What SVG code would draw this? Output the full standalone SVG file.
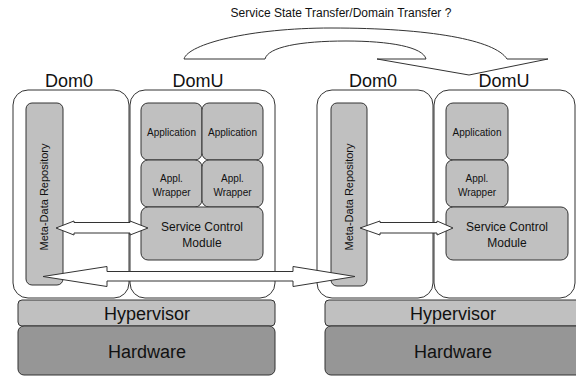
<svg xmlns="http://www.w3.org/2000/svg" width="576" height="379" viewBox="0 0 576 379">
  <style>
    .dom { fill: #ffffff; stroke: #333333; stroke-width: 1; }
    .mod { fill: #c0c0c0; stroke: #333333; stroke-width: 1; }
    .hw { fill: #969696; stroke: #333333; stroke-width: 1; }
    .arrow { fill: #ffffff; stroke: #333333; stroke-width: 1; stroke-linejoin: miter; }
    text { font-family: "Liberation Sans", Arial, sans-serif; fill: #111111; text-anchor: middle; }
    .lbl { font-size: 18px; }
    .sm { font-size: 10px; }
    .md { font-size: 12px; }
    .meta { font-size: 11px; }
  </style>

  <!-- domain labels -->
  <text class="lbl" x="69" y="87">Dom0</text>
  <text class="lbl" x="198" y="87">DomU</text>
  <text class="lbl" x="373" y="87">Dom0</text>
  <text class="lbl" x="504" y="87">DomU</text>
  <text class="md" x="341" y="17">Service State Transfer/Domain Transfer ?</text>

  <!-- host 1 -->
  <g id="dom0-a">
    <rect class="dom" x="13" y="90" width="116" height="208" rx="15"/>
  </g>
  <g id="domu-a">
    <rect class="dom" x="130" y="90" width="145" height="208" rx="15"/>
  </g>
  <g id="meta-a">
    <rect class="mod" x="26" y="103" width="37" height="182" rx="6"/>
    <text class="meta" transform="translate(48,197) rotate(-90)">Meta-Data Repository</text>
  </g>
  <g id="app-a1">
    <rect class="mod" x="141" y="103" width="61" height="57" rx="7"/>
    <text class="sm" x="171.5" y="136">Application</text>
  </g>
  <g id="app-a2">
    <rect class="mod" x="202" y="103" width="61" height="57" rx="7"/>
    <text class="sm" x="232.5" y="136">Application</text>
  </g>
  <g id="wrap-a1">
    <rect class="mod" x="141" y="160" width="61" height="47" rx="7"/>
    <text class="sm" x="171.5" y="181.5">Appl.</text>
    <text class="sm" x="171.5" y="195.5">Wrapper</text>
  </g>
  <g id="wrap-a2">
    <rect class="mod" x="202" y="160" width="61" height="47" rx="7"/>
    <text class="sm" x="232.5" y="181.5">Appl.</text>
    <text class="sm" x="232.5" y="195.5">Wrapper</text>
  </g>
  <g id="scm-a">
    <rect class="mod" x="141" y="207" width="122" height="53" rx="7"/>
    <text class="md" x="202" y="231">Service Control</text>
    <text class="md" x="202" y="247">Module</text>
  </g>
  <g id="hyp-a">
    <rect class="mod" x="18" y="300" width="257" height="26" rx="4"/>
    <text class="lbl" x="147" y="319.5">Hypervisor</text>
  </g>
  <g id="hw-a">
    <rect class="hw" x="18" y="326" width="257" height="49" rx="6"/>
    <text class="lbl" x="147" y="357.5">Hardware</text>
  </g>

  <!-- host 2 -->
  <g id="dom0-b">
    <rect class="dom" x="317" y="90" width="116" height="208" rx="15"/>
  </g>
  <g id="domu-b">
    <rect class="dom" x="434" y="90" width="141" height="208" rx="15"/>
  </g>
  <g id="meta-b">
    <rect class="mod" x="331" y="103" width="36" height="183" rx="6"/>
    <text class="meta" transform="translate(353,197) rotate(-90)">Meta-Data Repository</text>
  </g>
  <g id="app-b">
    <rect class="mod" x="446" y="103" width="62" height="57" rx="7"/>
    <text class="sm" x="477" y="136">Application</text>
  </g>
  <g id="wrap-b">
    <rect class="mod" x="446" y="160" width="62" height="47" rx="7"/>
    <text class="sm" x="477" y="181.5">Appl.</text>
    <text class="sm" x="477" y="195.5">Wrapper</text>
  </g>
  <g id="scm-b">
    <rect class="mod" x="446" y="207" width="122" height="53" rx="7"/>
    <text class="md" x="507" y="231">Service Control</text>
    <text class="md" x="507" y="247">Module</text>
  </g>
  <g id="hyp-b">
    <rect class="mod" x="325" y="300" width="257" height="26" rx="4"/>
    <text class="lbl" x="453" y="319.5">Hypervisor</text>
  </g>
  <g id="hw-b">
    <rect class="hw" x="325" y="326" width="257" height="49" rx="6"/>
    <text class="lbl" x="453" y="357.5">Hardware</text>
  </g>

  <!-- connectors: block arrows -->
  <g id="connectors">
    <!-- meta-data repository <-> service control module, host 1 -->
    <path class="arrow" d="M56,228 L74,221 L74,222.5 L130,222.5 L130,221 L148,228 L130,235 L130,233 L74,233 L74,235 Z"/>
    <!-- meta-data repository <-> service control module, host 2 -->
    <path class="arrow" d="M360,228 L380,221 L380,222.5 L437,222.5 L437,221 L453,228 L437,235 L437,233 L380,233 L380,235 Z"/>
    <!-- repository to repository across hosts -->
    <path class="arrow" d="M43,276.5 L107,266.5 L107,271.5 L293,271.5 L293,266.5 L355,276.5 L293,286.5 L293,281 L107,281 L107,286.5 Z"/>
    <!-- curved transfer arrow over the hosts -->
    <path class="arrow" d="M184,59 C188,44 250,28 331,28 C430,28 495,40 507,59 L548,59 L469,75 L377,59 L426,59 C423,47 390,41 346,41 C300,41 268,47 265,59 Z"/>
  </g>
</svg>
